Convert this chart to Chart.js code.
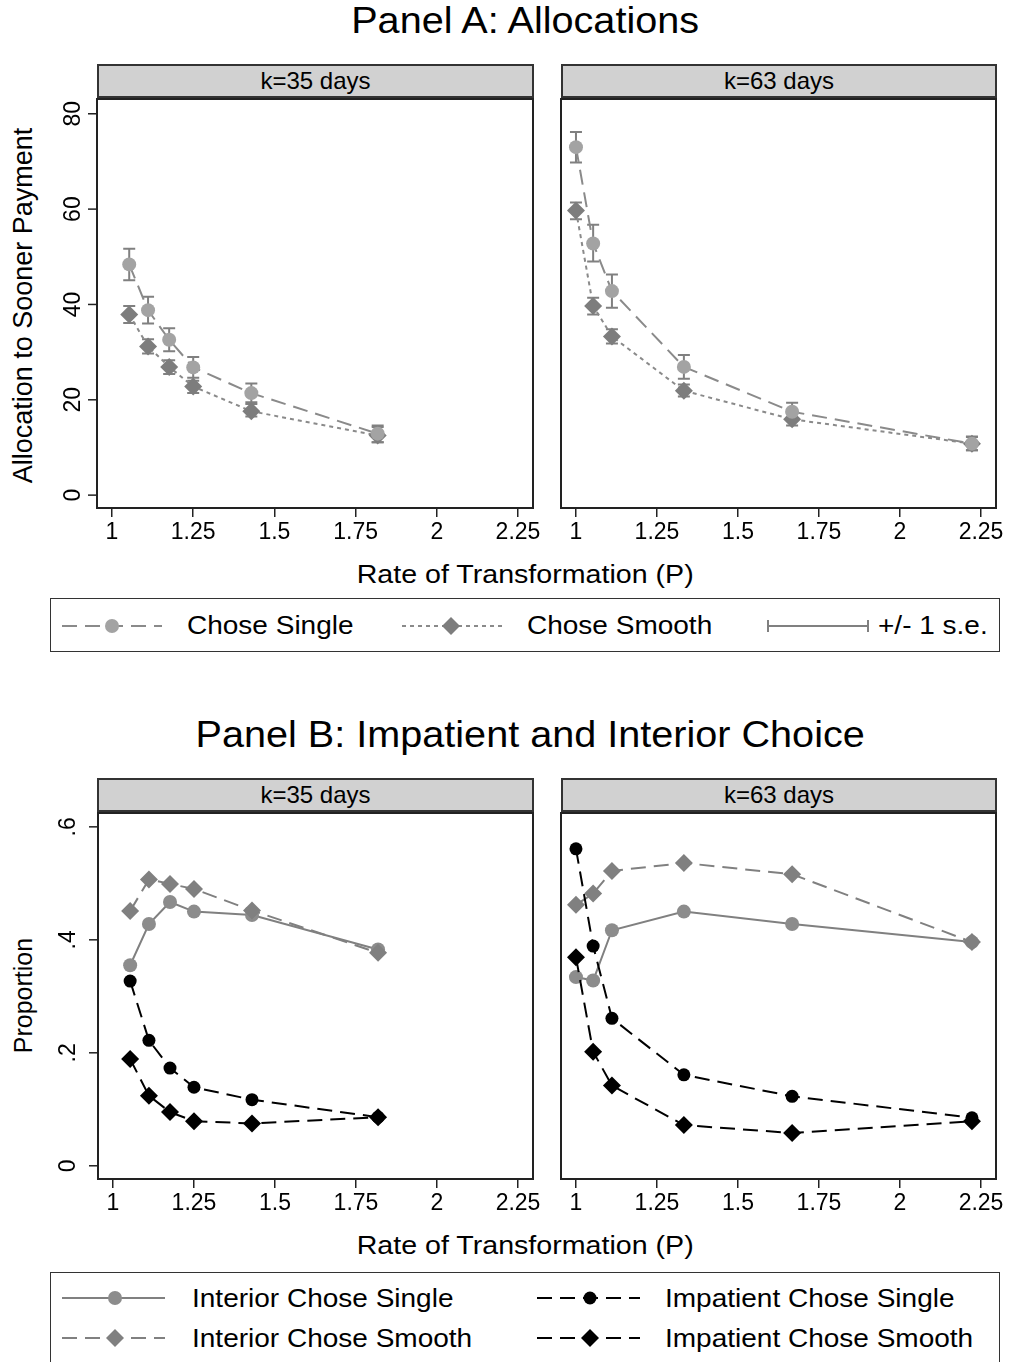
<!DOCTYPE html>
<html lang="en">
<head>
<meta charset="UTF-8" />
<title>Allocations and Interior Choice</title>
<script src="https://cdn.jsdelivr.net/npm/chart.js"></script>
<style>
  body { margin: 0; background: #fff; font-family: "Liberation Sans", Arial, sans-serif; color: #000; }
  #page { position: relative; width: 1011px; height: 1362px; overflow: hidden; background: #fff; }
  canvas, .abs { position: absolute; }
  .title { position: absolute; text-align: center; line-height: 1; white-space: nowrap; }
  .title span { display: inline-block; }
  .strip { position: absolute; box-sizing: border-box; height: 34px; border: 2px solid #333;
           background: #d1d1d1; text-align: center; font-size: 24px; line-height: 30px; }
  .legbox { position: absolute; box-sizing: border-box; border: 1.5px solid #333; }
  .legtext { position: absolute; font-size: 25px; line-height: 1; white-space: nowrap;
             transform: scaleX(1.12); transform-origin: left center; }
  .ytitle { position: absolute; width: 500px; text-align: center; line-height: 1; white-space: nowrap;
            transform: rotate(-90deg); transform-origin: center center; }
</style>
</head>
<body>
<div id="page">
  <div class="title" style="left:225px; width:600px; top:2.5px; font-size:36px;"><span style="transform:scaleX(1.1)">Panel A: Allocations</span></div>
  <div class="strip" style="left:97px; width:437px; top:64px;">k=35 days</div>
  <div class="strip" style="left:561px; width:436px; top:64px;">k=63 days</div>
  <div class="ytitle" style="left:-227px; top:292px; font-size:27px;">Allocation to Sooner Payment</div>
  <canvas id="chartA1" width="545" height="463" style="left:0; top:90px;"></canvas>
  <canvas id="chartA2" width="466" height="463" style="left:545px; top:90px;"></canvas>
  <div class="title" style="left:225px; width:600px; top:561px; font-size:26px;"><span style="transform:scaleX(1.1)">Rate of Transformation (P)</span></div>

  <div class="legbox" style="left:50px; top:598px; width:950px; height:54px;"></div>
  <svg class="abs" style="left:50px; top:598px;" width="950" height="54">
    <line x1="12" y1="28" x2="112" y2="28" stroke="#8a8a8a" stroke-width="2" stroke-dasharray="15 8" />
    <circle cx="62" cy="28" r="7" fill="#a3a3a3" />
    <line x1="352" y1="28" x2="452" y2="28" stroke="#8a8a8a" stroke-width="2" stroke-dasharray="4 4" />
    <polygon points="392,28 401,19 410,28 401,37" fill="#7d7d7d" />
    <line x1="718" y1="28" x2="818" y2="28" stroke="#808080" stroke-width="2" />
    <line x1="718" y1="22" x2="718" y2="34" stroke="#808080" stroke-width="2" />
    <line x1="818" y1="22" x2="818" y2="34" stroke="#808080" stroke-width="2" />
  </svg>
  <div class="legtext" style="left:187px; top:613.4px;">Chose Single</div>
  <div class="legtext" style="left:527px; top:613.4px;">Chose Smooth</div>
  <div class="legtext" style="left:878px; top:613.4px;">+/- 1 s.e.</div>

  <div class="title" style="left:226px; width:600px; top:716.5px; font-size:36px;"><span style="transform:scaleX(1.1)">Panel B: Impatient and Interior Choice</span></div>
  <div class="strip" style="left:97px; width:437px; top:778px;">k=35 days</div>
  <div class="strip" style="left:561px; width:436px; top:778px;">k=63 days</div>
  <div class="ytitle" style="left:-227px; top:983px; font-size:25px;">Proportion</div>
  <canvas id="chartB1" width="545" height="420" style="left:0; top:804px;"></canvas>
  <canvas id="chartB2" width="466" height="420" style="left:545px; top:804px;"></canvas>
  <div class="title" style="left:225px; width:600px; top:1232px; font-size:26px;"><span style="transform:scaleX(1.1)">Rate of Transformation (P)</span></div>

  <div class="legbox" style="left:50px; top:1272px; width:950px; height:100px;"></div>
  <svg class="abs" style="left:50px; top:1272px;" width="950" height="90">
    <line x1="12" y1="26" x2="115" y2="26" stroke="#808080" stroke-width="2" />
    <circle cx="65" cy="26" r="7" fill="#8c8c8c" />
    <line x1="12" y1="66" x2="115" y2="66" stroke="#808080" stroke-width="2" stroke-dasharray="15 8" />
    <polygon points="56,66 65,57 74,66 65,75" fill="#808080" />
    <line x1="487" y1="26" x2="590" y2="26" stroke="#000" stroke-width="2" stroke-dasharray="15 8" />
    <circle cx="540" cy="26" r="6.5" fill="#000" />
    <line x1="487" y1="66" x2="590" y2="66" stroke="#000" stroke-width="2" stroke-dasharray="15 8" />
    <polygon points="531,66 540,57 549,66 540,75" fill="#000" />
  </svg>
  <div class="legtext" style="left:192px; top:1285.8px;">Interior Chose Single</div>
  <div class="legtext" style="left:192px; top:1325.8px;">Interior Chose Smooth</div>
  <div class="legtext" style="left:665px; top:1285.8px;">Impatient Chose Single</div>
  <div class="legtext" style="left:665px; top:1325.8px;">Impatient Chose Smooth</div>
</div>

<script>
  // x positions (rate of transformation) for each delay
  const xTicks = [1, 1.25, 1.5, 1.75, 2, 2.25];
  const rateK35 = [1.053, 1.111, 1.176, 1.25, 1.429, 1.818];
  const rateK63 = [1, 1.053, 1.111, 1.333, 1.667, 2.222];

  // Panel A: allocations with +/- 1 s.e.
  const allocTicks = [0, 20, 40, 60, 80];
  const allocTickLabels = ["0", "20", "40", "60", "80"];
  const singleK35 = [48.4, 38.8, 32.6, 26.8, 21.4, 12.9];
  const singleK35Lo = [45.1, 36.0, 30.2, 24.6, 19.5, 11.1];
  const singleK35Hi = [51.7, 41.6, 35.0, 29.0, 23.4, 14.6];
  const smoothK35 = [37.9, 31.2, 26.9, 22.8, 17.6, 12.5];
  const smoothK35Lo = [36.1, 29.7, 25.4, 21.4, 16.5, 11.1];
  const smoothK35Hi = [39.7, 32.7, 28.3, 24.0, 19.1, 14.3];
  const singleK63 = [73.0, 52.8, 42.8, 26.9, 17.5, 10.8];
  const singleK63Lo = [69.8, 49.0, 39.3, 24.4, 15.7, 9.4];
  const singleK63Hi = [76.2, 56.7, 46.3, 29.4, 19.4, 12.2];
  const smoothK63 = [59.7, 39.7, 33.3, 21.9, 15.9, 10.8];
  const smoothK63Lo = [57.9, 37.9, 31.8, 20.7, 14.6, 9.4];
  const smoothK63Hi = [61.4, 41.4, 34.8, 23.2, 17.3, 12.3];

  // Panel B: proportions
  const propTicks = [0, 0.2, 0.4, 0.6];
  const propTickLabels = ["0", ".2", ".4", ".6"];
  const intSingleK35 = [0.355, 0.428, 0.467, 0.45, 0.444, 0.383];
  const intSmoothK35 = [0.451, 0.507, 0.499, 0.49, 0.452, 0.377];
  const impSingleK35 = [0.327, 0.222, 0.173, 0.139, 0.117, 0.086];
  const impSmoothK35 = [0.189, 0.124, 0.095, 0.079, 0.075, 0.086];
  const intSingleK63 = [0.334, 0.328, 0.417, 0.45, 0.428, 0.396];
  const intSmoothK63 = [0.462, 0.482, 0.522, 0.536, 0.516, 0.396];
  const impSingleK63 = [0.561, 0.389, 0.261, 0.161, 0.123, 0.085];
  const impSmoothK63 = [0.369, 0.202, 0.142, 0.072, 0.058, 0.079];

  const FONT = '"Liberation Sans", Arial, sans-serif';
  Chart.defaults.font.family = FONT;

  function series(xs, ys, style) {
    return Object.assign(
      { data: xs.map((x, i) => ({ x: x, y: ys[i] })), tension: 0, fill: false, pointBorderWidth: 0, borderWidth: 2 },
      style
    );
  }

  // box round the plot region
  const framePlugin = {
    id: "frame",
    afterDraw(chart) {
      const a = chart.chartArea, ctx = chart.ctx;
      ctx.save();
      ctx.strokeStyle = "#222";
      ctx.lineWidth = 2;
      ctx.strokeRect(a.left, a.top, a.right - a.left, a.bottom - a.top);
      ctx.restore();
    },
  };

  // vertical +/- 1 s.e. bars
  const errorBarPlugin = {
    id: "errbars",
    beforeDatasetsDraw(chart) {
      const ctx = chart.ctx, xs = chart.scales.x, ys = chart.scales.y;
      ctx.save();
      ctx.strokeStyle = "#808080";
      ctx.lineWidth = 2;
      chart.data.datasets.forEach((ds) => {
        if (!ds.errLo) return;
        ds.data.forEach((p, i) => {
          const px = xs.getPixelForValue(p.x);
          const lo = ys.getPixelForValue(ds.errLo[i]);
          const hi = ys.getPixelForValue(ds.errHi[i]);
          ctx.beginPath();
          ctx.moveTo(px, lo); ctx.lineTo(px, hi);
          ctx.moveTo(px - 6, lo); ctx.lineTo(px + 6, lo);
          ctx.moveTo(px - 6, hi); ctx.lineTo(px + 6, hi);
          ctx.stroke();
        });
      });
      ctx.restore();
    },
  };

  // Stata-style y axis: ticks on the left, labels rotated
  const yAxisPlugin = {
    id: "yaxis",
    afterDraw(chart, args, opts) {
      if (!opts.ticks) return;
      const ctx = chart.ctx, a = chart.chartArea, ys = chart.scales.y;
      ctx.save();
      ctx.strokeStyle = "#222";
      ctx.lineWidth = 1.5;
      ctx.fillStyle = "#000";
      ctx.font = "23px " + FONT;
      ctx.textAlign = "center";
      ctx.textBaseline = "middle";
      opts.ticks.forEach((v, i) => {
        const py = ys.getPixelForValue(v);
        ctx.beginPath();
        ctx.moveTo(a.left - 9, py);
        ctx.lineTo(a.left, py);
        ctx.stroke();
        ctx.save();
        ctx.translate(a.left - opts.offset, py);
        ctx.rotate(-Math.PI / 2);
        ctx.fillText(opts.labels[i], 0, 0);
        ctx.restore();
      });
      ctx.restore();
    },
  };

  function makeChart(id, datasets, pad, yRange, yAxis) {
    return new Chart(document.getElementById(id), {
      type: "line",
      data: { datasets: datasets },
      options: {
        responsive: false,
        animation: false,
        devicePixelRatio: 1,
        events: [],
        layout: { padding: pad },
        plugins: {
          legend: { display: false },
          tooltip: { enabled: false },
          yaxis: yAxis || {},
        },
        scales: {
          x: {
            type: "linear",
            min: 0.9538,
            max: 2.2962,
            afterBuildTicks: (s) => { s.ticks = xTicks.map((v) => ({ value: v })); },
            afterFit: (s) => { s.height = 45; s.paddingLeft = 0; s.paddingRight = 0; },
            grid: { drawOnChartArea: false, drawTicks: true, tickLength: 9, color: "#222", lineWidth: 1.5 },
            border: { display: false },
            ticks: {
              font: { size: 23 },
              color: "#000",
              padding: 2,
              maxRotation: 0,
              autoSkip: false,
              callback: (v) => String(v),
            },
          },
          y: { display: false, min: yRange[0], max: yRange[1] },
        },
      },
      plugins: [errorBarPlugin, framePlugin, yAxisPlugin],
    });
  }

  const singleStyle = {
    borderColor: "#8a8a8a", borderDash: [15, 8],
    pointStyle: "circle", pointRadius: 7, pointBackgroundColor: "#a3a3a3", pointBorderColor: "#a3a3a3",
  };
  const smoothStyle = {
    borderColor: "#8a8a8a", borderDash: [4, 4],
    pointStyle: "rectRot", pointRadius: 9, pointBackgroundColor: "#7d7d7d", pointBorderColor: "#7d7d7d",
  };
  const intSingleStyle = {
    borderColor: "#808080", order: 3,
    pointStyle: "circle", pointRadius: 7, pointBackgroundColor: "#8c8c8c", pointBorderColor: "#8c8c8c",
  };
  const intSmoothStyle = {
    borderColor: "#808080", borderDash: [15, 8], order: 2,
    pointStyle: "rectRot", pointRadius: 9, pointBackgroundColor: "#808080", pointBorderColor: "#808080",
  };
  const impSingleStyle = {
    borderColor: "#000", borderDash: [15, 8], order: 1,
    pointStyle: "circle", pointRadius: 6.5, pointBackgroundColor: "#000", pointBorderColor: "#000",
  };
  const impSmoothStyle = {
    borderColor: "#000", borderDash: [15, 8], order: 0,
    pointStyle: "rectRot", pointRadius: 9, pointBackgroundColor: "#000", pointBorderColor: "#000",
  };

  const allocRange = [-2.7, 83.1];
  const propRange = [-0.0234, 0.6245];

  makeChart(
    "chartA1",
    [
      series(rateK35, smoothK35, Object.assign({ errLo: smoothK35Lo, errHi: smoothK35Hi, order: 1 }, smoothStyle)),
      series(rateK35, singleK35, Object.assign({ errLo: singleK35Lo, errHi: singleK35Hi, order: 0 }, singleStyle)),
    ],
    { left: 97, right: 12, top: 7, bottom: 0 },
    allocRange,
    { ticks: allocTicks, labels: allocTickLabels, offset: 23.5 }
  );
  makeChart(
    "chartA2",
    [
      series(rateK63, smoothK63, Object.assign({ errLo: smoothK63Lo, errHi: smoothK63Hi, order: 1 }, smoothStyle)),
      series(rateK63, singleK63, Object.assign({ errLo: singleK63Lo, errHi: singleK63Hi, order: 0 }, singleStyle)),
    ],
    { left: 16, right: 15, top: 7, bottom: 0 },
    allocRange
  );
  makeChart(
    "chartB1",
    [
      series(rateK35, intSingleK35, intSingleStyle),
      series(rateK35, intSmoothK35, intSmoothStyle),
      series(rateK35, impSingleK35, impSingleStyle),
      series(rateK35, impSmoothK35, impSmoothStyle),
    ],
    { left: 98, right: 12, top: 7, bottom: 0 },
    propRange,
    { ticks: propTicks, labels: propTickLabels, offset: 29 }
  );
  makeChart(
    "chartB2",
    [
      series(rateK63, intSingleK63, intSingleStyle),
      series(rateK63, intSmoothK63, intSmoothStyle),
      series(rateK63, impSingleK63, impSingleStyle),
      series(rateK63, impSmoothK63, impSmoothStyle),
    ],
    { left: 16, right: 15, top: 7, bottom: 0 },
    propRange
  );
</script>
</body>
</html>
